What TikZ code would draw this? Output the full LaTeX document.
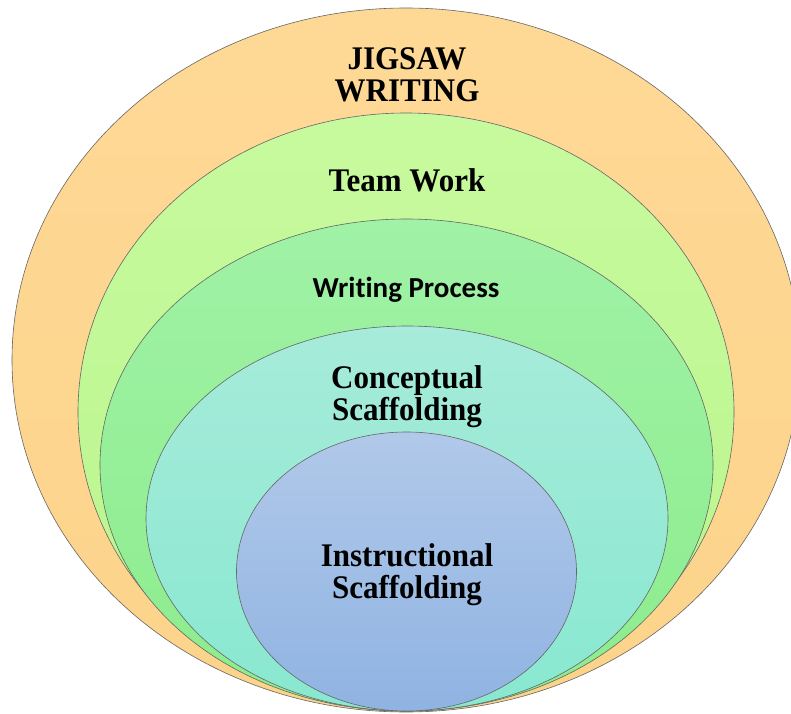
\documentclass[tikz,border=0pt]{standalone}
\usepackage{fontspec}
\setmainfont{Liberation Serif}
\newfontfamily\ringfont[FakeStretch=0.94]{Liberation Serif}
\newfontfamily\processfont[Ligatures=NoCommon]{Carlito}
\usepackage{tikz}

\definecolor{jigsawtop}{RGB}{254,217,150}
\definecolor{jigsawbot}{RGB}{252,211,138}
\definecolor{teamtop}{RGB}{199,250,158}
\definecolor{teambot}{RGB}{186,245,140}
\definecolor{proctop}{RGB}{160,242,166}
\definecolor{procbot}{RGB}{140,236,140}
\definecolor{concepttop}{RGB}{167,235,218}
\definecolor{conceptbot}{RGB}{136,232,208}
\definecolor{instrtop}{RGB}{177,201,233}
\definecolor{instrbot}{RGB}{143,179,226}

\begin{document}
\begin{tikzpicture}[x=1pt, y=1pt,
    ring/.style={draw=black!60, line width=0.6pt},
    ringtext/.style={font=\ringfont\bfseries\fontsize{33}{32}\selectfont, align=center, anchor=base, inner sep=0pt}]
                \useasboundingbox (0,0) rectangle (791,713);
                \clip (0,0) rectangle (791,713);

                % outer ring
                \draw[ring, top color=jigsawtop, bottom color=jigsawbot] (406,353) ellipse [x radius=394, y radius=352];
                \node[ringtext] (jigsaw) at (407,611) {JIGSAW\\WRITING};

                % team work
                \draw[ring, top color=teamtop, bottom color=teambot] (406,301) ellipse [x radius=328, y radius=299];
                \node[ringtext] (team) at (407,521) {Team Work};

                % writing process
                \draw[ring, top color=proctop, bottom color=procbot] (406.5,248) ellipse [x radius=306.5, y radius=246];
                \node[ringtext, font=\processfont\bfseries\fontsize{29}{32}\selectfont] (process) at (406,416) {Writing Process};

                % conceptual scaffolding
                \draw[ring, top color=concepttop, bottom color=conceptbot] (407,194.5) ellipse [x radius=261, y radius=192.5];
                \node[ringtext] (concept) at (407,293) {Conceptual\\Scaffolding};

                % instructional scaffolding
                \draw[ring, top color=instrtop, bottom color=instrbot] (406.5,141.5) ellipse [x radius=170, y radius=139.5];
                \node[ringtext] (instruct) at (407,115) {Instructional\\Scaffolding};
            \end{tikzpicture}
\end{document}
